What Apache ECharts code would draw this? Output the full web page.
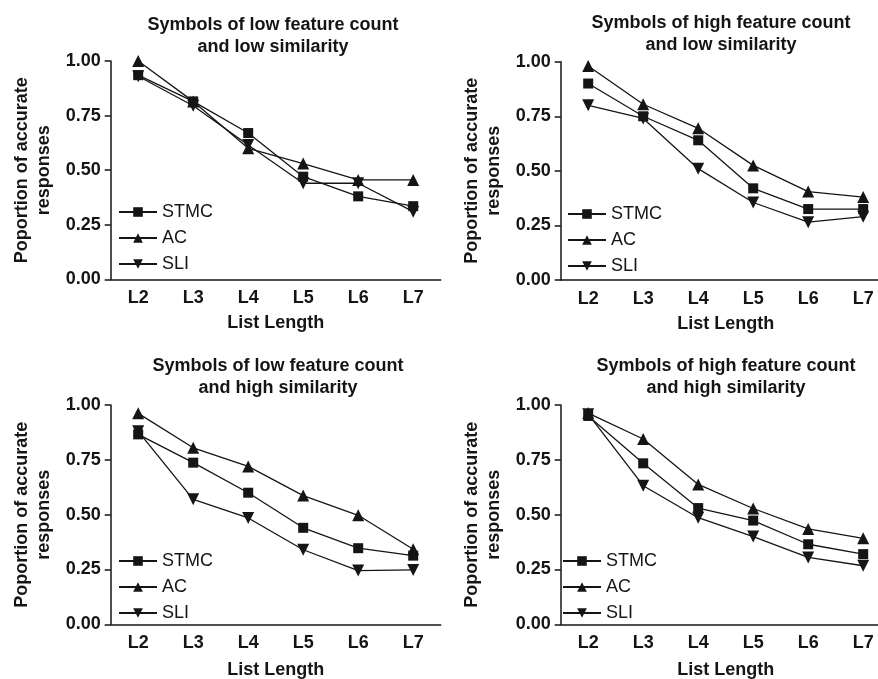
<!DOCTYPE html>
<html>
<head>
<meta charset="utf-8">
<script src="https://cdn.jsdelivr.net/npm/echarts@6/dist/echarts.min.js"></script>
<style>
  html, body { margin: 0; padding: 0; background: #fff; }
  #chart { width: 878px; height: 679px; }
</style>
</head>
<body>
<div id="chart"></div>
<script>
var categories = ['L2', 'L3', 'L4', 'L5', 'L6', 'L7'];
var yTicks = [0, 0.25, 0.5, 0.75, 1];

// low feature count / low similarity
var stmcLowLow = [0.935, 0.815, 0.67, 0.47, 0.38, 0.335];
var acLowLow = [1.0, 0.815, 0.60, 0.53, 0.455, 0.455];
var sliLowLow = [0.93, 0.795, 0.615, 0.44, 0.44, 0.31];

// high feature count / low similarity
var stmcHighLow = [0.90, 0.75, 0.64, 0.42, 0.325, 0.325];
var acHighLow = [0.98, 0.805, 0.695, 0.525, 0.405, 0.38];
var sliHighLow = [0.80, 0.74, 0.51, 0.355, 0.265, 0.29];

// low feature count / high similarity
var stmcLowHigh = [0.866, 0.737, 0.60, 0.44, 0.347, 0.313];
var acLowHigh = [0.962, 0.805, 0.72, 0.587, 0.497, 0.342];
var sliLowHigh = [0.88, 0.57, 0.485, 0.34, 0.245, 0.248];

// high feature count / high similarity
var stmcHighHigh = [0.95, 0.734, 0.53, 0.473, 0.365, 0.32];
var acHighHigh = [0.963, 0.845, 0.638, 0.528, 0.435, 0.392];
var sliHighHigh = [0.958, 0.632, 0.486, 0.40, 0.305, 0.267];

var panelTitles = [
    'Symbols of low feature count\nand low similarity',
    'Symbols of high feature count\nand low similarity',
    'Symbols of low feature count\nand high similarity',
    'Symbols of high feature count\nand high similarity'
];
var seriesNames = ['STMC', 'AC', 'SLI'];
var panelData = [
    [stmcLowLow, acLowLow, sliLowLow],
    [stmcHighLow, acHighLow, sliHighLow],
    [stmcLowHigh, acLowHigh, sliLowHigh],
    [stmcHighHigh, acHighHigh, sliHighHigh]
];

var FONT = '"Liberation Sans", Arial, Helvetica, sans-serif';
var INK = '#151515';
var downTriangle = 'path://M0,0 L10,0 L5,9 Z';
var symbols = ['rect', 'triangle', downTriangle];
var symbolSizes = [10, 12, 12];

// layout of the 4 panels (pixels)
var layout = [
    { left: 110.7, top: 61, height: 218.3, titleX: 273, titleY: 14, legendX: 118, legendY: 203, nameGap: 35 },
    { left: 560.7, top: 61.7, height: 218.3, titleX: 721, titleY: 12, legendX: 567, legendY: 205, nameGap: 35 },
    { left: 110.7, top: 405, height: 219.3, titleX: 278, titleY: 355, legendX: 118, legendY: 552, nameGap: 37 },
    { left: 560.7, top: 405, height: 219.3, titleX: 726, titleY: 355, legendX: 562, legendY: 552, nameGap: 37 }
];

var option = {
    backgroundColor: '#fff',
    animation: false,
    title: [],
    legend: [],
    grid: [],
    xAxis: [],
    yAxis: [],
    series: []
};

for (var p = 0; p < 4; p++) {
    var L = layout[p];
    option.title.push({
        text: panelTitles[p],
        left: L.titleX,
        top: L.titleY,
        textAlign: 'center',
        padding: 0,
        textStyle: { fontFamily: FONT, fontSize: 18, fontWeight: 'bold', color: INK, lineHeight: 22 }
    });
    option.grid.push({ left: L.left, top: L.top, width: 330, height: L.height, outerBoundsMode: 'none', containLabel: false });
    option.xAxis.push({
        type: 'category',
        gridIndex: p,
        data: categories,
        boundaryGap: true,
        name: 'List Length',
        nameLocation: 'middle',
        nameGap: L.nameGap,
        nameTextStyle: { fontFamily: FONT, fontSize: 18, fontWeight: 'bold', color: INK },
        axisLine: { lineStyle: { color: INK, width: 1.5 } },
        axisTick: { alignWithLabel: true, length: 6, lineStyle: { color: INK, width: 1.5 } },
        axisLabel: { fontFamily: FONT, fontSize: 18, fontWeight: 'bold', color: INK, margin: 10, hideOverlap: false },
        splitLine: { show: false }
    });
    option.yAxis.push({
        type: 'value',
        gridIndex: p,
        min: yTicks[0],
        max: yTicks[yTicks.length - 1],
        interval: 0.25,
        name: 'Poportion of accurate\nresponses',
        nameLocation: 'middle',
        nameRotate: 90,
        nameGap: 56,
        nameTextStyle: { fontFamily: FONT, fontSize: 18, fontWeight: 'bold', color: INK, lineHeight: 22 },
        axisLine: { show: true, lineStyle: { color: INK, width: 1.5 } },
        axisTick: { show: true, length: 6, lineStyle: { color: INK, width: 1.5 } },
        axisLabel: {
            fontFamily: FONT, fontSize: 18, fontWeight: 'bold', color: INK, margin: 10,
            formatter: function(v) { return v.toFixed(2); }
        },
        splitLine: { show: false }
    });
    option.legend.push({
        orient: 'vertical',
        left: L.legendX,
        top: L.legendY,
        padding: 0,
        itemWidth: 38,
        itemHeight: 12,
        itemGap: 8,
        data: seriesNames,
        textStyle: { fontFamily: FONT, fontSize: 18, color: INK }
    });
    for (var s = 0; s < 3; s++) {
        option.series.push({
            name: seriesNames[s],
            type: 'line',
            xAxisIndex: p,
            yAxisIndex: p,
            data: panelData[p][s],
            symbol: symbols[s],
            symbolSize: symbolSizes[s],
            showSymbol: true,
            color: INK,
            itemStyle: { color: INK },
            lineStyle: { color: INK, width: 1.3 }
        });
    }
}

var chart = echarts.init(document.getElementById('chart'));
chart.setOption(option);
</script>
</body>
</html>
